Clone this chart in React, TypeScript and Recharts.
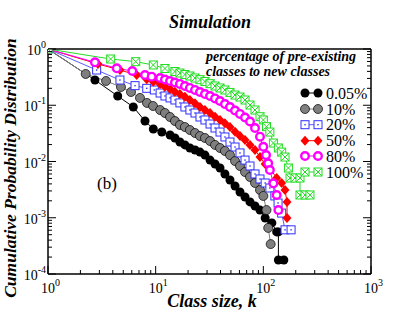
import React from "react";
import { LineChart, Line, XAxis, YAxis } from "recharts";

const SERIF = '"Liberation Serif", "Times New Roman", serif';

// class size k and cumulative probability, one pair of arrays per series
const k005 = [1, 2.73, 4.44, 6.2, 7.96, 9.51, 11.4, 13.6, 15.1, 16.8, 18.7, 20.8, 23.2, 25.8, 28.7, 32, 35.6, 39.6, 44, 49, 54.6, 60.7, 67.6, 75.2, 83.7, 93.1, 104, 120, 133, 138, 138, 155];
const p005 = [1, 0.281, 0.146, 0.0931, 0.0525, 0.0378, 0.0334, 0.0296, 0.0262, 0.0222, 0.0197, 0.0174, 0.016, 0.0147, 0.013, 0.0106, 0.00903, 0.00766, 0.006, 0.00469, 0.00367, 0.00287, 0.00234, 0.00191, 0.00162, 0.00137, 0.00099, 0.00081, 0.00056, 0.00056, 0.000177, 0.000177];

const k10 = [1, 2.24, 3.46, 4.76, 5.9, 7.15, 8.3, 9.45, 11, 12.2, 13.6, 15.1, 16.8, 18.7, 20.8, 23.2, 25.8, 28.7, 32, 35.6, 39.6, 44, 49, 54.6, 60.7, 67.6, 75.2, 83.7, 93.1, 100, 107, 111, 117];
const p10 = [1, 0.36, 0.27, 0.211, 0.172, 0.135, 0.11, 0.097, 0.0823, 0.0728, 0.0618, 0.0525, 0.0446, 0.041, 0.0363, 0.0321, 0.0284, 0.0262, 0.0231, 0.0197, 0.0174, 0.0154, 0.013, 0.0102, 0.00832, 0.0065, 0.0053, 0.00415, 0.00311, 0.00244, 0.00137, 0.00066, 0.00034];

const k20 = [1, 2.83, 4.66, 6.43, 8.26, 9.71, 11, 12.2, 13.6, 15.1, 16.8, 18.7, 20.8, 23.2, 25.8, 28.7, 32, 35.6, 39.6, 44, 49, 54.6, 60.7, 67.6, 75.2, 83.7, 93.1, 104, 115, 128, 137, 148, 159, 181];
const p20 = [1, 0.423, 0.281, 0.223, 0.2, 0.187, 0.165, 0.146, 0.135, 0.124, 0.11, 0.0931, 0.0823, 0.0728, 0.0618, 0.0547, 0.0464, 0.0394, 0.0334, 0.0273, 0.0222, 0.0181, 0.0142, 0.0106, 0.00832, 0.006, 0.00489, 0.00415, 0.00338, 0.00244, 0.00183, 0.00121, 0.00061, 0.00061];

const k50 = [1, 2.91, 4.66, 6.67, 8.26, 9.51, 11, 12.2, 13.6, 15.1, 16.8, 18.7, 20.8, 23.2, 25.8, 28.7, 32, 35.6, 39.6, 44, 49, 54.6, 60.7, 67.6, 75.2, 83.7, 93.1, 104, 115, 133, 148, 159, 166, 166];
const p50 = [1, 0.541, 0.423, 0.345, 0.289, 0.262, 0.239, 0.214, 0.194, 0.174, 0.158, 0.142, 0.124, 0.108, 0.0931, 0.0823, 0.0728, 0.0626, 0.0547, 0.0478, 0.041, 0.0339, 0.0284, 0.0241, 0.0197, 0.016, 0.012, 0.00903, 0.00757, 0.00509, 0.00415, 0.00311, 0.00191, 0.00099];

const k80 = [1, 2.73, 4.35, 6.07, 7.96, 9.18, 11, 12.2, 13.6, 15.1, 16.8, 18.7, 20.8, 23.2, 25.8, 28.7, 32, 35.6, 39.6, 44, 49, 54.6, 60.7, 67.6, 75.2, 83.7, 93.1, 100, 106, 111, 115, 124, 133, 138];
const p80 = [1, 0.58, 0.454, 0.406, 0.345, 0.322, 0.305, 0.287, 0.27, 0.254, 0.239, 0.22, 0.203, 0.187, 0.172, 0.158, 0.146, 0.132, 0.119, 0.105, 0.0931, 0.0807, 0.07, 0.0606, 0.0514, 0.0394, 0.0276, 0.0183, 0.013, 0.0093, 0.00706, 0.00409, 0.00254, 0.00137];

const k100 = [1, 3.82, 6.53, 9.51, 12.2, 15.1, 16.8, 18.7, 20.8, 23.2, 25.8, 28.7, 32, 35.6, 39.6, 44, 49, 54.6, 60.7, 67.6, 75.2, 83.7, 93.1, 100, 107, 115, 124, 138, 148, 159, 171, 177, 197, 219, 219, 244, 271];
const p100 = [1, 0.664, 0.595, 0.52, 0.45, 0.398, 0.374, 0.352, 0.331, 0.305, 0.285, 0.264, 0.242, 0.22, 0.203, 0.187, 0.169, 0.152, 0.14, 0.124, 0.101, 0.0823, 0.0626, 0.0547, 0.0416, 0.0334, 0.0213, 0.0174, 0.0147, 0.012, 0.00766, 0.00509, 0.00509, 0.00509, 0.00254, 0.00254, 0.00254];

const seriesLabels = ["0.05%", "10%", "20%", "50%", "80%", "100%"];

const xMajor = [1, 10, 100, 1000];
const yMajor = [0.0001, 0.001, 0.01, 0.1, 1];

// minor ticks 2..9 in every decade
const minors = (majors: number[]) =>
  majors.slice(0, -1).flatMap((m) => [2, 3, 4, 5, 6, 7, 8, 9].map((i) => +(m * i).toPrecision(3)));
const xTicks = [...xMajor, ...minors(xMajor)];
const yTicks = [...yMajor, ...minors(yMajor)];

type Kind = "black" | "gray" | "blue" | "red" | "magenta" | "green";

const series: { name: string; k: number[]; p: number[]; kind: Kind; line: string }[] = [
  { name: seriesLabels[0], k: k005, p: p005, kind: "black", line: "#000000" },
  { name: seriesLabels[1], k: k10, p: p10, kind: "gray", line: "#808080" },
  { name: seriesLabels[2], k: k20, p: p20, kind: "blue", line: "#5b5bff" },
  { name: seriesLabels[3], k: k50, p: p50, kind: "red", line: "#ff0000" },
  { name: seriesLabels[4], k: k80, p: p80, kind: "magenta", line: "#ff00ff" },
  { name: seriesLabels[5], k: k100, p: p100, kind: "green", line: "#22dd22" },
];

function Marker({ kind, cx, cy }: { kind: Kind; cx: number; cy: number }) {
  switch (kind) {
    case "black":
      return <circle cx={cx} cy={cy} r={4.5} fill="#000" />;
    case "gray":
      return <circle cx={cx} cy={cy} r={4.5} fill="#7f7f7f" stroke="#000" strokeWidth={0.7} />;
    case "blue":
      return (
        <g>
          <rect x={cx - 4} y={cy - 4} width={8} height={8} fill="#fff" stroke="#3030ff" strokeWidth={1} />
          <rect x={cx - 0.7} y={cy - 0.7} width={1.4} height={1.4} fill="#3030ff" />
        </g>
      );
    case "red":
      return <path d={`M${cx} ${cy - 5}L${cx + 4.5} ${cy}L${cx} ${cy + 5}L${cx - 4.5} ${cy}Z`} fill="#ff0000" />;
    case "magenta":
      return <circle cx={cx} cy={cy} r={3.8} fill="#fff" stroke="#ff00ff" strokeWidth={2.4} />;
    default:
      return (
        <g stroke="#22dd22" strokeWidth={1}>
          <rect x={cx - 4} y={cy - 4} width={8} height={8} fill="#fff" />
          <path d={`M${cx - 4} ${cy - 4}L${cx + 4} ${cy + 4}M${cx + 4} ${cy - 4}L${cx - 4} ${cy + 4}`} />
        </g>
      );
  }
}

const isMajor = (v: number) => Math.abs(Math.log10(v) - Math.round(Math.log10(v))) < 1e-6;
const exp = (v: number) => String(Math.round(Math.log10(v)));

function Tick({ x, y, payload, side }: any) {
  const v = payload.value as number;
  const major = isMajor(v);
  const len = major ? 8 : 4;
  let line;
  if (side === "bottom") line = <line x1={x} y1={y} x2={x} y2={y - len} />;
  else if (side === "top") line = <line x1={x} y1={y} x2={x} y2={y + len} />;
  else if (side === "left") line = <line x1={x} y1={y} x2={x + len} y2={y} />;
  else line = <line x1={x} y1={y} x2={x - len} y2={y} />;
  return (
    <g>
      <g stroke="#000" strokeWidth={1}>{line}</g>
      {major && side === "bottom" && (
        <text x={x - 7} y={y + 19} fontFamily={SERIF} fontSize={14} fill="#000" textAnchor="start">
          10<tspan dy={-7} fontSize={10}>{exp(v)}</tspan>
        </text>
      )}
      {major && side === "left" && (
        <text x={x - 2} y={y + 6} fontFamily={SERIF} fontSize={14} fill="#000" textAnchor="end">
          10<tspan dy={-7} fontSize={10}>{exp(v)}</tspan>
        </text>
      )}
    </g>
  );
}

const axisLine = { stroke: "#000", strokeWidth: 1.5 };
const rowY = [93, 109, 124.7, 140.7, 156, 172];

export default function App() {
  return (
    <div style={{ position: "absolute", left: 0, top: 0, width: 418, height: 323, background: "#fff" }}>
      <LineChart width={418} height={323} margin={{ top: 48, right: 46, bottom: 48, left: 47 }}>
        <XAxis
          xAxisId="b"
          type="number"
          dataKey="k"
          scale="log"
          domain={[1, 1000]}
          allowDataOverflow
          ticks={xTicks}
          interval={0}
          height={1}
          tickSize={0}
          tickMargin={0}
          tickLine={false}
          axisLine={axisLine}
          tick={(p: any) => <Tick {...p} side="bottom" />}
        />
        <XAxis
          xAxisId="t"
          orientation="top"
          type="number"
          scale="log"
          domain={[1, 1000]}
          allowDataOverflow
          ticks={xTicks}
          interval={0}
          height={1}
          tickSize={0}
          tickMargin={0}
          tickLine={false}
          axisLine={axisLine}
          tick={(p: any) => <Tick {...p} side="top" />}
        />
        <YAxis
          yAxisId="l"
          type="number"
          scale="log"
          domain={[0.0001, 1]}
          allowDataOverflow
          ticks={yTicks}
          interval={0}
          width={1}
          tickSize={0}
          tickMargin={0}
          tickLine={false}
          axisLine={axisLine}
          tick={(p: any) => <Tick {...p} side="left" />}
        />
        <YAxis
          yAxisId="r"
          orientation="right"
          type="number"
          scale="log"
          domain={[0.0001, 1]}
          allowDataOverflow
          ticks={yTicks}
          interval={0}
          width={1}
          tickSize={0}
          tickMargin={0}
          tickLine={false}
          axisLine={axisLine}
          tick={(p: any) => <Tick {...p} side="right" />}
        />
        {series.map((s) => (
          <Line
            key={s.name}
            xAxisId="b"
            yAxisId="l"
            data={s.k.map((k, i) => ({ k, p: s.p[i] }))}
            dataKey="p"
            type="linear"
            stroke={s.line}
            strokeWidth={1}
            isAnimationActive={false}
            activeDot={false}
            dot={(d: any) => <Marker key={`${s.kind}-${d.index}`} kind={s.kind} cx={d.cx} cy={d.cy} />}
          />
        ))}
      </LineChart>
      <svg width={418} height={323} style={{ position: "absolute", left: 0, top: 0, pointerEvents: "none" }}>
        <g fontFamily={SERIF} fill="#000">
          <text x={210} y={28} textAnchor="middle" fontSize={18} fontWeight="bold" fontStyle="italic">
            Simulation
          </text>
          <text x={212} y={307} textAnchor="middle" fontSize={18} fontWeight="bold" fontStyle="italic">
            Class size, k
          </text>
          <text
            x={16}
            y={168}
            textAnchor="middle"
            fontSize={17.5}
            fontWeight="bold"
            fontStyle="italic"
            transform="rotate(-90 16 168)"
          >
            Cumulative Probability Distribution
          </text>
          <text x={97} y={189} fontSize={17}>(b)</text>
          <text x={206} y={61} fontSize={14} fontWeight="bold" fontStyle="italic">
            percentage of pre-existing
          </text>
          <text x={206} y={76} fontSize={14} fontWeight="bold" fontStyle="italic">
            classes to new classes
          </text>
          {series.map((s, i) => (
            <g key={s.name}>
              <line x1={305} y1={rowY[i]} x2={318} y2={rowY[i]} stroke={s.line} strokeWidth={1} />
              <Marker kind={s.kind} cx={305} cy={rowY[i]} />
              <Marker kind={s.kind} cx={318} cy={rowY[i]} />
              <text x={326} y={rowY[i] + 5.5} fontSize={16}>
                {s.name}
              </text>
            </g>
          ))}
        </g>
      </svg>
    </div>
  );
}
